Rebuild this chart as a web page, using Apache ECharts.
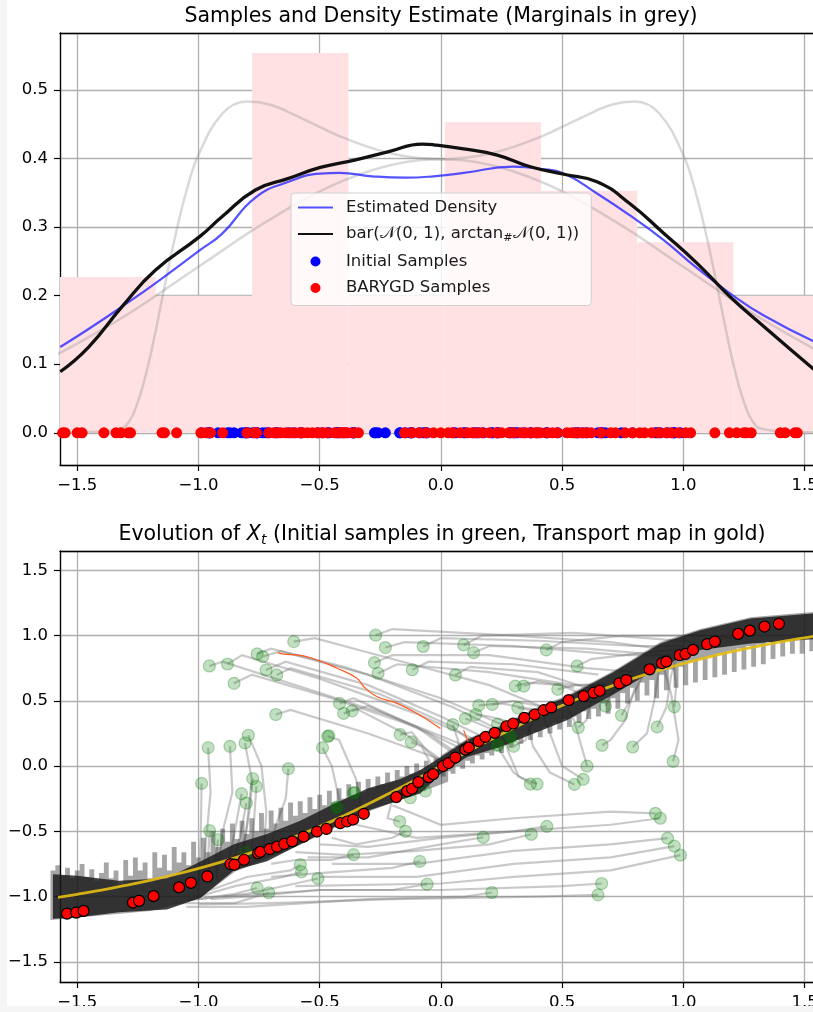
<!DOCTYPE html>
<html><head><meta charset="utf-8">
<script src="https://cdn.jsdelivr.net/npm/echarts@6/dist/echarts.min.js"></script>
<style>html,body{margin:0;padding:0;background:#fff}#c{width:813px;height:1012px}</style>
</head><body><div id="c"></div>
<script>
// ---------- TOP PANEL DATA ----------
const binEdges = [-1.573,-1.176,-0.779,-0.381,0.016,0.413,0.810,1.207,1.604];
const binHeights = [0.227,0.200,0.554,0.200,0.453,0.353,0.278,0.200];

const normX = [-1.6,-1.5,-1.4,-1.3,-1.2,-1.1,-1.0,-0.9,-0.8,-0.7,-0.6,-0.5,-0.4,-0.3,-0.2,-0.1,0,0.1,0.2,0.3,0.4,0.5,0.6,0.7,0.8,0.9,1.0,1.1,1.2,1.3,1.4,1.5,1.6];
const normY = [0.111,0.130,0.150,0.171,0.194,0.218,0.242,0.266,0.290,0.312,0.333,0.352,0.368,0.381,0.391,0.397,0.399,0.397,0.391,0.381,0.368,0.352,0.333,0.312,0.290,0.266,0.242,0.218,0.194,0.171,0.150,0.130,0.111];

const arcX = [-1.6,-1.4,-1.35,-1.3,-1.25,-1.2,-1.15,-1.1,-1.05,-1.0,-0.9,-0.8,-0.7,-0.6,-0.5,-0.4,-0.3,-0.2,-0.1,0,0.1,0.2,0.3,0.4,0.5,0.6,0.7,0.8,0.9,1.0,1.05,1.1,1.15,1.2,1.25,1.3,1.35,1.4,1.6];
const arcY = [0,0.002,0.004,0.010,0.045,0.110,0.195,0.280,0.352,0.405,0.466,0.483,0.478,0.463,0.446,0.430,0.417,0.407,0.401,0.399,0.401,0.407,0.417,0.430,0.446,0.463,0.478,0.483,0.466,0.405,0.352,0.280,0.195,0.110,0.045,0.010,0.004,0.002,0];

const estX = [-1.57,-1.45,-1.315,-1.178,-0.995,-0.903,-0.765,-0.628,-0.497,-0.42,-0.284,-0.147,-0.03,0.094,0.30,0.41,0.507,0.644,0.78,0.919,1.057,1.194,1.332,1.54];
const estY = [0.125,0.152,0.184,0.218,0.266,0.290,0.343,0.366,0.378,0.379,0.374,0.372,0.374,0.379,0.388,0.385,0.378,0.349,0.317,0.281,0.240,0.203,0.171,0.133];

const baryX = [-1.57,-1.453,-1.315,-1.178,-0.995,-0.903,-0.765,-0.628,-0.497,-0.352,-0.215,-0.077,-0.03,0.094,0.232,0.369,0.507,0.644,0.78,0.919,1.057,1.194,1.332,1.54];
const baryY = [0.089,0.125,0.184,0.237,0.286,0.315,0.354,0.371,0.387,0.398,0.410,0.421,0.420,0.414,0.405,0.388,0.377,0.366,0.334,0.291,0.247,0.198,0.155,0.092];

const barygdX = [-1.56,-1.55,-1.50,-1.48,-1.39,-1.34,-1.32,-1.29,-1.28,
  -1.15,-1.14,-1.09,-0.99,-0.97,-0.95,-0.90,-0.80,
  -0.77,-0.76,-0.71,-0.69,-0.67,-0.66,-0.64,-0.62,-0.60,-0.58,-0.57,-0.55,-0.53,-0.51,-0.49,-0.47,-0.44,-0.42,-0.41,-0.40,-0.39,-0.385,
  -0.36,-0.34,-0.15,-0.12,-0.09,-0.06,-0.03,0.0,
  0.03,0.05,0.08,0.11,0.13,0.15,0.17,0.20,0.23,0.25,0.28,0.30,0.33,0.35,0.37,0.39,0.40,0.41,
  0.44,0.46,0.48,0.52,0.54,0.56,0.58,0.60,0.62,0.66,0.70,0.72,0.76,0.79,
  0.82,0.84,0.87,0.90,0.93,0.95,0.98,1.01,1.03,1.13,1.19,
  1.22,1.25,1.26,1.28,1.40,1.42,1.46,1.47];

// ---------- BOTTOM PANEL DATA ----------
const greenX = [-0.955,-0.88,-0.853,-0.758,-0.735,-0.721,-0.677,-0.607,-0.681,
  -0.96,-0.87,-0.808,-0.794,-0.629,-0.987,-0.776,-0.761,-0.822,-0.802,-0.954,-0.919,-0.805,
  -0.418,-0.401,-0.366,-0.467,-0.462,-0.488,-0.168,-0.122,0.049,0.101,0.144,0.156,0.212,0.317,0.234,0.284,0.288,0.232,0.236,0.30,-0.431,-0.428,-0.36,-0.357,-0.064,-0.126,-0.17,-0.146,
  -0.269,-0.229,-0.274,-0.259,-0.118,-0.073,0.094,0.135,0.06,0.435,0.562,0.307,0.342,0.482,
  0.679,0.745,0.567,0.665,0.791,0.892,0.963,0.958,0.603,0.587,0.551,0.369,0.397,
  -0.58,-0.575,-0.507,-0.758,-0.71,-0.36,-0.087,-0.057,
  0.21,0.663,0.648,0.437,0.373,0.175,0.885,0.905,0.935,0.963,0.988];
const greenY = [0.767,0.782,0.634,0.859,0.839,0.736,0.698,0.954,0.395,
  0.141,0.151,0.177,0.236,-0.02,-0.133,-0.097,-0.156,-0.212,-0.284,-0.495,-0.564,-0.661,
  0.48,0.403,0.423,0.228,0.232,0.141,0.241,0.185,0.318,0.364,0.395,0.465,0.472,0.446,0.321,0.223,0.226,0.159,0.162,0.151,-0.315,-0.318,-0.207,-0.203,-0.192,-0.243,-0.425,-0.50,
  1.003,0.908,0.792,0.711,0.738,0.916,0.928,0.869,0.698,0.890,0.767,0.613,0.613,0.588,
  0.459,0.388,0.295,0.159,0.146,0.30,0.454,0.036,0.0,-0.102,-0.141,-0.138,-0.138,
  -0.756,-0.81,-0.862,-0.935,-0.971,-0.679,-0.731,-0.905,
  -0.969,-0.90,-0.987,-0.462,-0.523,-0.546,-0.362,-0.40,-0.553,-0.614,-0.683];

const redX = [-1.542,-1.504,-1.474,-1.27,-1.245,-1.185,-1.08,-1.031,-0.963,-0.868,-0.852,-0.812,-0.754,-0.745,-0.706,-0.676,-0.646,-0.613,-0.566,-0.511,-0.472,-0.415,-0.387,-0.362,-0.318,-0.184,-0.139,-0.119,-0.093,-0.05,-0.032,0.009,0.032,0.06,0.101,0.115,0.156,0.184,0.222,0.27,0.298,0.344,0.387,0.424,0.455,0.527,0.589,0.63,0.655,0.736,0.765,0.861,0.912,0.93,0.985,1.009,1.04,1.098,1.13,1.226,1.274,1.335,1.394];
const redY = [-1.131,-1.123,-1.11,-1.046,-1.033,-0.997,-0.93,-0.895,-0.846,-0.751,-0.756,-0.718,-0.669,-0.658,-0.636,-0.618,-0.597,-0.577,-0.541,-0.502,-0.482,-0.438,-0.425,-0.41,-0.366,-0.238,-0.192,-0.174,-0.123,-0.085,-0.062,0.0,0.023,0.065,0.126,0.141,0.19,0.223,0.254,0.305,0.326,0.369,0.395,0.428,0.449,0.505,0.536,0.562,0.577,0.634,0.659,0.741,0.788,0.8,0.849,0.859,0.89,0.934,0.954,1.013,1.038,1.069,1.09];

const goldX = [-1.6,-1.5,-1.4,-1.3,-1.2,-1.1,-1.0,-0.9,-0.8,-0.7,-0.6,-0.5,-0.4,-0.3,-0.2,-0.1,0,0.1,0.2,0.3,0.4,0.5,0.6,0.7,0.8,0.9,1.0,1.1,1.2,1.3,1.4,1.5,1.6];
const goldY = [-1.012,-0.983,-0.951,-0.915,-0.876,-0.833,-0.785,-0.733,-0.675,-0.611,-0.540,-0.464,-0.381,-0.291,-0.197,-0.100,0,0.100,0.197,0.291,0.381,0.464,0.540,0.611,0.675,0.733,0.785,0.833,0.876,0.915,0.951,0.983,1.012];

// dense core of the late-time oscillation band
const bandX  = [-1.60,-1.5,-1.33,-1.13,-0.99,-0.854,-0.717,-0.58,-0.442,-0.30,-0.167,-0.085,0.0,0.108,0.245,0.383,0.52,0.713,0.906,1.07,1.277,1.60];
const coreHi = [-0.83,-0.84,-0.88,-0.86,-0.73,-0.60,-0.52,-0.42,-0.29,-0.17,-0.10,-0.03,0.07,0.20,0.30,0.43,0.53,0.72,0.94,1.04,1.13,1.18];
const coreLo = [-1.17,-1.16,-1.12,-1.10,-1.01,-0.80,-0.73,-0.60,-0.47,-0.34,-0.26,-0.21,-0.06,0.07,0.146,0.25,0.35,0.55,0.76,0.89,0.94,0.98];
// lighter spiky fringe: spike tops left of 0 (every 0.02 from -1.61), spike bottoms right of 0 (every 0.02 from 0)
const fringeLStart = -1.61;
const fringeLTop = [-0.80,-0.76,-0.84,-0.78,-0.86,-0.80,-0.75,-0.85,-0.79,-0.88,-0.82,-0.74,-0.86,-0.80,-0.90,-0.72,-0.84,-0.70,-0.80,-0.74,
  -0.86,-0.66,-0.78,-0.68,-0.80,-0.62,-0.74,-0.66,-0.76,-0.58,-0.70,-0.55,-0.66,-0.50,-0.62,-0.48,-0.58,-0.44,-0.56,-0.42,
  -0.52,-0.40,-0.50,-0.36,-0.48,-0.34,-0.44,-0.32,-0.42,-0.28,-0.38,-0.27,-0.36,-0.24,-0.33,-0.22,-0.30,-0.19,-0.28,-0.17,
  -0.25,-0.14,-0.22,-0.12,-0.20,-0.10,-0.17,-0.08,-0.14,-0.05,-0.12,-0.03,-0.08,0.00,-0.06,0.02,-0.03,0.04,0.00,0.06,0.03,0.06];
const fringeLBase = [[0.03,-0.12],[-0.3,-0.35],[-0.6,-0.62],[-0.85,-0.81],[-1.0,-1.02],[-1.2,-1.11],[-1.61,-1.18]];
const fringeRStart = 0.0;
const fringeRBot = [-0.08,-0.04,-0.06,0.00,-0.02,0.04,0.02,0.08,0.05,0.10,0.08,0.14,0.10,0.16,0.14,0.20,0.17,0.24,0.20,0.26,
  0.22,0.30,0.25,0.33,0.28,0.36,0.30,0.38,0.33,0.42,0.36,0.44,0.38,0.48,0.40,0.52,0.44,0.56,0.48,0.60,
  0.50,0.64,0.54,0.66,0.52,0.70,0.58,0.74,0.60,0.76,0.62,0.80,0.64,0.82,0.66,0.84,0.68,0.86,0.70,0.88,
  0.72,0.90,0.74,0.92,0.76,0.93,0.78,0.95,0.82,0.96,0.84,0.97,0.86,0.98,0.86,0.99,0.88,1.00,0.90,1.00];
const fringeRBase = [[1.60,1.19],[1.277,1.14],[1.07,1.05],[0.906,0.95],[0.713,0.73],[0.52,0.54],[0.383,0.44],[0.245,0.31],[0.108,0.21],[0.0,0.08]];

const orangePath = [[-0.672,0.869],[-0.649,0.857],[-0.593,0.852],[-0.511,0.813],[-0.428,0.749],[-0.346,0.672],[-0.318,0.608],[-0.263,0.531],[-0.181,0.480],[-0.098,0.403],[-0.002,0.288]];
const orangeTail = [[0.094,0.275],[0.105,0.22],[0.122,0.146]];

const trajectories = [
 [[-0.955,0.767],[-0.90,0.80],[-0.6,0.62],[-0.2,0.38],[0.12,0.14]],
 [[-0.88,0.782],[-0.82,0.85],[-0.5,0.67],[-0.1,0.40],[0.18,0.17]],
 [[-0.853,0.634],[-0.78,0.70],[-0.45,0.52],[-0.1,0.30],[0.10,0.12]],
 [[-0.758,0.859],[-0.70,0.90],[-0.4,0.76],[0.0,0.52],[0.30,0.28]],
 [[-0.735,0.839],[-0.66,0.88],[-0.3,0.70],[0.05,0.45],[0.26,0.26]],
 [[-0.721,0.736],[-0.64,0.80],[-0.3,0.62],[0.0,0.38],[0.20,0.20]],
 [[-0.677,0.698],[-0.62,0.75],[-0.25,0.55],[0.05,0.30],[0.15,0.15]],
 [[-0.607,0.954],[-0.52,0.98],[-0.2,0.82],[0.2,0.62],[0.45,0.43]],
 [[-0.681,0.395],[-0.62,0.43],[-0.3,0.25],[0.0,0.05],[0.05,0.03]],
 [[-0.96,0.141],[-0.95,-0.2],[-0.97,-0.6],[-0.98,-0.85]],
 [[-0.87,0.151],[-0.86,-0.2],[-0.90,-0.5],[-0.92,-0.8]],
 [[-0.808,0.177],[-0.78,-0.1],[-0.80,-0.45],[-0.82,-0.7]],
 [[-0.794,0.236],[-0.74,0.0],[-0.72,-0.35],[-0.73,-0.65]],
 [[-0.629,-0.02],[-0.64,-0.25],[-0.68,-0.45],[-0.70,-0.62]],
 [[-0.987,-0.133],[-0.99,-0.5],[-1.0,-0.95]],
 [[-0.776,-0.097],[-0.79,-0.35],[-0.82,-0.7]],
 [[-0.761,-0.156],[-0.77,-0.4],[-0.78,-0.68]],
 [[-0.822,-0.212],[-0.85,-0.5],[-0.88,-0.78]],
 [[-0.802,-0.284],[-0.83,-0.55],[-0.86,-0.76]],
 [[-0.954,-0.495],[-0.96,-0.7],[-0.95,-0.9]],
 [[-0.919,-0.564],[-0.93,-0.72],[-0.92,-0.88]],
 [[-0.418,0.48],[-0.36,0.52],[-0.1,0.30],[0.05,0.10]],
 [[-0.401,0.403],[-0.35,0.44],[-0.15,0.25],[0.0,0.05]],
 [[-0.366,0.423],[-0.3,0.46],[-0.05,0.25],[0.08,0.08]],
 [[-0.467,0.228],[-0.42,0.2],[-0.35,-0.1],[-0.33,-0.3]],
 [[-0.488,0.141],[-0.45,0.0],[-0.42,-0.25],[-0.40,-0.40]],
 [[-0.168,0.241],[-0.12,0.26],[-0.05,0.1],[0.02,0.0]],
 [[-0.122,0.185],[-0.08,0.15],[-0.03,-0.02]],
 [[0.049,0.318],[0.07,0.2],[0.08,0.08]],
 [[0.101,0.364],[0.15,0.33],[0.25,0.25]],
 [[0.144,0.395],[0.2,0.38],[0.32,0.32]],
 [[0.156,0.465],[0.25,0.48],[0.42,0.42]],
 [[0.212,0.472],[0.3,0.5],[0.46,0.44]],
 [[0.317,0.446],[0.40,0.42],[0.47,0.45]],
 [[0.30,0.151],[0.35,0.2],[0.38,0.35]],
 [[-0.064,-0.192],[-0.08,-0.12]],
 [[-0.17,-0.425],[-0.22,-0.40],[-0.20,-0.25]],
 [[-0.146,-0.50],[-0.20,-0.55],[-0.35,-0.6],[-0.45,-0.55]],
 [[-0.269,1.003],[-0.2,1.05],[0.3,1.0],[0.7,0.95],[0.9,0.9]],
 [[-0.229,0.908],[-0.15,0.95],[0.3,0.92],[0.75,0.85],[0.95,0.85]],
 [[-0.274,0.792],[-0.2,0.85],[0.2,0.85],[0.6,0.75],[0.8,0.72]],
 [[-0.259,0.711],[-0.18,0.78],[0.2,0.72],[0.55,0.62],[0.7,0.62]],
 [[-0.118,0.738],[-0.05,0.8],[0.3,0.78],[0.65,0.70]],
 [[-0.073,0.916],[0.0,0.98],[0.4,0.96],[0.8,0.92],[1.0,0.92]],
 [[0.094,0.928],[0.17,1.0],[0.55,1.02],[0.85,0.98],[1.05,0.95]],
 [[0.135,0.869],[0.2,0.92],[0.6,0.9],[0.85,0.86]],
 [[0.06,0.698],[0.12,0.76],[0.4,0.72],[0.6,0.6]],
 [[0.435,0.890],[0.5,0.95],[0.75,1.0],[1.1,1.0],[1.2,0.98]],
 [[0.562,0.767],[0.62,0.82],[0.8,0.86],[1.0,0.9]],
 [[0.307,0.613],[0.36,0.64],[0.5,0.62],[0.58,0.55]],
 [[0.342,0.613],[0.4,0.65],[0.55,0.6]],
 [[0.482,0.588],[0.55,0.62],[0.68,0.63]],
 [[0.679,0.459],[0.7,0.55],[0.78,0.7]],
 [[0.745,0.388],[0.78,0.5],[0.85,0.75]],
 [[0.567,0.295],[0.6,0.35],[0.62,0.5]],
 [[0.665,0.159],[0.7,0.2],[0.76,0.35],[0.8,0.6]],
 [[0.791,0.146],[0.85,0.25],[0.88,0.5],[0.9,0.75]],
 [[0.892,0.30],[0.93,0.45],[0.95,0.7],[0.98,0.85]],
 [[0.963,0.454],[0.97,0.6],[0.96,0.8]],
 [[0.958,0.036],[0.98,0.2],[0.95,0.55],[0.92,0.75]],
 [[0.603,0.0],[0.58,0.15],[0.55,0.35],[0.52,0.45]],
 [[0.587,-0.102],[0.5,0.0],[0.45,0.25],[0.42,0.4]],
 [[0.551,-0.141],[0.45,-0.05],[0.38,0.15],[0.36,0.3]],
 [[0.369,-0.138],[0.3,-0.05],[0.25,0.1],[0.22,0.2]],
 [[0.397,-0.138],[0.32,-0.08],[0.28,0.1],[0.26,0.22]],
 [[-0.58,-0.756],[-0.62,-0.8],[-0.8,-0.85],[-0.95,-0.95]],
 [[-0.575,-0.81],[-0.65,-0.85],[-0.85,-0.92],[-1.0,-1.0]],
 [[-0.507,-0.862],[-0.6,-0.9],[-0.8,-0.98],[-1.05,-1.03]],
 [[-0.758,-0.935],[-0.85,-0.98],[-1.0,-1.02]],
 [[-0.71,-0.971],[-0.85,-1.05],[-1.1,-1.05]],
 [[-0.36,-0.679],[-0.45,-0.72],[-0.6,-0.72],[-0.7,-0.75]],
 [[-0.087,-0.731],[-0.2,-0.78],[-0.5,-0.82],[-0.7,-0.85]],
 [[-0.057,-0.905],[-0.2,-0.95],[-0.5,-0.95],[-0.8,-1.0],[-0.95,-1.02]],
 [[0.21,-0.969],[0.1,-1.0],[-0.3,-1.02],[-0.8,-1.08],[-1.05,-1.08]],
 [[0.663,-0.90],[0.5,-0.92],[0.0,-0.95],[-0.5,-0.95],[-0.9,-1.0]],
 [[0.648,-0.987],[0.4,-1.0],[-0.2,-1.02],[-0.7,-1.05],[-1.0,-1.06]],
 [[0.437,-0.462],[0.3,-0.5],[0.0,-0.55],[-0.3,-0.62],[-0.5,-0.6]],
 [[0.373,-0.523],[0.2,-0.6],[-0.1,-0.65],[-0.4,-0.68],[-0.6,-0.66]],
 [[0.175,-0.546],[0.0,-0.6],[-0.3,-0.7],[-0.55,-0.7]],
 [[0.885,-0.362],[0.7,-0.35],[0.3,-0.4],[0.0,-0.45],[-0.2,-0.3]],
 [[0.905,-0.40],[0.7,-0.45],[0.3,-0.5],[-0.1,-0.55],[-0.35,-0.45]],
 [[0.935,-0.553],[0.7,-0.6],[0.3,-0.65],[-0.1,-0.75],[-0.45,-0.75]],
 [[0.963,-0.614],[0.7,-0.7],[0.3,-0.75],[-0.1,-0.85],[-0.5,-0.85]],
 [[0.988,-0.683],[0.7,-0.8],[0.3,-0.85],[0.0,-0.9],[-0.6,-0.92]]
];

// ---------- CHART ----------
const FONT = 'DejaVu Sans';
const XMIN = -1.571, XMAX = 1.572;
const SPIKE_W = 0.02;
const fmt = v => (v < 0 ? '\u2212' : '') + Math.abs(v).toFixed(1);
const zip = (xs, ys) => xs.map((x, i) => [x, ys[i]]);
const spine = { show: true, onZero: false, lineStyle: { color: '#000', width: 1.3 } };

function xAxisFor(gi) {
  return {
    type: 'value', gridIndex: gi, min: XMIN, max: XMAX, position: 'bottom',
    axisLine: spine,
    axisTick: { show: true, length: 6, lineStyle: { color: '#000', width: 1.2 } },
    axisLabel: { fontSize: 16.5, fontFamily: FONT, color: '#000', margin: 12,
      showMinLabel: false, showMaxLabel: false, formatter: fmt },
    splitLine: { show: true, lineStyle: { color: '#b0b0b0', width: 1.3 } }
  };
}
function topSpineFor(gi) {
  return { type: 'value', gridIndex: gi, min: XMIN, max: XMAX, position: 'top',
    axisLine: spine, axisTick: { show: false }, axisLabel: { show: false }, splitLine: { show: false } };
}
function yAxisFor(gi, min, max) {
  return {
    type: 'value', gridIndex: gi, min: min, max: max,
    axisLine: spine,
    axisTick: { show: true, length: 6, lineStyle: { color: '#000', width: 1.2 } },
    axisLabel: { fontSize: 16.5, fontFamily: FONT, color: '#000', margin: 12,
      showMinLabel: false, showMaxLabel: false, formatter: fmt },
    splitLine: { show: true, lineStyle: { color: '#b0b0b0', width: 1.3 } }
  };
}

function polySeries(buildOutline, fill) {
  return {
    type: 'custom', xAxisIndex: 1, yAxisIndex: 1, silent: true, z: 3,
    data: [[0, 0]],
    renderItem: function (params, api) {
      return { type: 'polygon', shape: { points: buildOutline().map(p => api.coord(p)) }, style: { fill: fill } };
    }
  };
}
function coreOutline() {
  const pts = [];
  for (let i = 0; i < bandX.length; i++) pts.push([bandX[i], coreHi[i]]);
  for (let i = bandX.length - 1; i >= 0; i--) pts.push([bandX[i], coreLo[i]]);
  return pts;
}
function stepOutline(start, vals, base) {
  const pts = [];
  vals.forEach((v, k) => { const x = start + k * SPIKE_W; pts.push([x, v], [x + SPIKE_W, v]); });
  return pts.concat(base);
}

const chart = echarts.init(document.getElementById('c'), null, { renderer: 'canvas' });
const histData = binHeights.map((h, i) => [binEdges[i], binEdges[i + 1], h]);
const noMarker = { color: 'rgba(0,0,0,0)', borderColor: 'rgba(0,0,0,0)', borderWidth: 0 };

chart.setOption({
  backgroundColor: '#fff',
  animation: false,
  graphic: [
    { type: 'rect', shape: { x: 0, y: 0, width: 7, height: 1012 }, style: { fill: '#f5f5f5' }, z: 100 },
    { type: 'rect', shape: { x: 0, y: 1006, width: 813, height: 6 }, style: { fill: '#f5f5f5' }, z: 100 },
    { type: 'text', x: 441, y: 17, z: 100,
      style: { text: 'Samples and Density Estimate (Marginals in grey)', font: '20.5px "DejaVu Sans"',
        fill: '#000', textAlign: 'center', textVerticalAlign: 'middle' } },
    { type: 'text', x: 442, y: 535, z: 100,
      style: { text: '{n|Evolution of }{i|X}{s|t}{n| (Initial samples in green, Transport map in gold)}',
        fill: '#000', textAlign: 'center', textVerticalAlign: 'middle',
        rich: {
          n: { fontSize: 20.5, fontFamily: FONT, fill: '#000' },
          i: { fontSize: 20.5, fontFamily: FONT, fontStyle: 'italic', fill: '#000' },
          s: { fontSize: 14, fontFamily: FONT, fontStyle: 'italic', fill: '#000', padding: [10, 0, 0, 0] }
        } } }
  ],
  grid: [
    { left: 60, top: 33, width: 762, height: 432, outerBoundsMode: 'none', containLabel: false },
    { left: 60, top: 551, width: 762, height: 431, outerBoundsMode: 'none', containLabel: false }
  ],
  xAxis: [xAxisFor(0), xAxisFor(1), topSpineFor(0), topSpineFor(1)],
  yAxis: [yAxisFor(0, -0.047, 0.583), yAxisFor(1, -1.655, 1.648)],
  legend: {
    orient: 'vertical', left: 291, top: 193,
    padding: [6, 12, 9, 6], itemGap: 9.5, itemWidth: 35, itemHeight: 10,
    backgroundColor: 'rgba(255,255,255,0.8)', borderColor: '#d0d0d0', borderWidth: 1, borderRadius: 4,
    data: [
      { name: 'Estimated Density', itemStyle: noMarker },
      { name: 'bar', itemStyle: noMarker },
      'Initial Samples', 'BARYGD Samples'],
    textStyle: {
      fontSize: 16.5, fontFamily: FONT, color: '#1a1a1a', padding: [0, 0, 0, 8],
      rich: {
        t: { fontSize: 16.5, fontFamily: FONT, color: '#1a1a1a' },
        c: { fontSize: 16.5, fontFamily: FONT, color: '#1a1a1a' },
        s: { fontSize: 11, fontFamily: FONT, color: '#1a1a1a', padding: [8, 0, 0, 0] }
      }
    },
    formatter: function (name) {
      if (name === 'bar') return '{t|bar(}{c|\uD835\uDCA9}{t|(0, 1), arctan}{s|#}{c|\uD835\uDCA9}{t|(0, 1))}';
      return name;
    }
  },
  series: [
    { type: 'custom', xAxisIndex: 0, yAxisIndex: 0, silent: true, z: 1,
      data: histData,
      renderItem: function (params, api) {
        const p0 = api.coord([api.value(0), api.value(2)]);
        const p1 = api.coord([api.value(1), 0]);
        const rect = echarts.graphic.clipRectByRect(
          { x: p0[0], y: p0[1], width: p1[0] - p0[0], height: p1[1] - p0[1] },
          { x: params.coordSys.x, y: params.coordSys.y, width: params.coordSys.width, height: params.coordSys.height });
        if (!rect) return;
        return { type: 'rect', shape: rect, style: { fill: '#ffe1e4' } };
      } },
    { type: 'line', name: 'normal', xAxisIndex: 0, yAxisIndex: 0, data: zip(normX, normY), smooth: true,
      symbol: 'none', lineStyle: { color: 'rgba(128,128,128,0.3)', width: 2.5 }, z: 2 },
    { type: 'line', name: 'arctan', xAxisIndex: 0, yAxisIndex: 0, data: zip(arcX, arcY), smooth: 0.4,
      symbol: 'none', lineStyle: { color: 'rgba(128,128,128,0.3)', width: 2.5 }, z: 2 },
    { type: 'line', name: 'Estimated Density', xAxisIndex: 0, yAxisIndex: 0, data: zip(estX, estY), smooth: true,
      symbol: 'none', color: 'rgba(40,40,255,0.8)', lineStyle: { color: 'rgba(40,40,255,0.8)', width: 2.2 }, z: 3 },
    { type: 'line', name: 'bar', xAxisIndex: 0, yAxisIndex: 0, data: zip(baryX, baryY), smooth: true,
      symbol: 'none', color: '#111', lineStyle: { color: '#111', width: 3.3 }, z: 3 },
    { type: 'scatter', name: 'Initial Samples', xAxisIndex: 0, yAxisIndex: 0,
      data: greenX.map(x => [x, 0]), symbolSize: 11, itemStyle: { color: '#0000ff', opacity: 1 }, z: 4 },
    { type: 'scatter', name: 'BARYGD Samples', xAxisIndex: 0, yAxisIndex: 0,
      data: barygdX.map(x => [x, 0]), symbolSize: 11, itemStyle: { color: '#ff0000', opacity: 1 }, z: 5 },

    { type: 'lines', coordinateSystem: 'cartesian2d', xAxisIndex: 1, yAxisIndex: 1, polyline: true, silent: true,
      data: trajectories.map(c => ({ coords: c })),
      lineStyle: { color: 'rgba(120,120,120,0.4)', width: 2.2, opacity: 1 }, z: 2 },
    polySeries(() => stepOutline(fringeLStart, fringeLTop, fringeLBase), 'rgba(40,40,40,0.42)'),
    polySeries(() => stepOutline(fringeRStart, fringeRBot, fringeRBase), 'rgba(40,40,40,0.42)'),
    polySeries(coreOutline, 'rgba(25,25,25,0.82)'),
    { type: 'line', xAxisIndex: 1, yAxisIndex: 1, data: orangePath, symbol: 'none', smooth: true,
      lineStyle: { color: '#ff5a1f', width: 1.2 }, z: 4 },
    { type: 'line', xAxisIndex: 1, yAxisIndex: 1, data: orangeTail, symbol: 'none', smooth: true,
      lineStyle: { color: '#ff5a1f', width: 1.2 }, z: 4 },
    { type: 'scatter', xAxisIndex: 1, yAxisIndex: 1, data: zip(greenX, greenY), symbolSize: 12,
      itemStyle: { color: 'rgba(0,128,0,0.3)', borderColor: 'rgba(0,110,0,0.35)', borderWidth: 1.2 }, z: 5 },
    { type: 'line', xAxisIndex: 1, yAxisIndex: 1, data: zip(goldX, goldY), symbol: 'none', smooth: true,
      lineStyle: { color: 'rgba(230,190,20,0.9)', width: 2.8 }, z: 6 },
    { type: 'scatter', xAxisIndex: 1, yAxisIndex: 1, data: zip(redX, redY), symbolSize: 11,
      itemStyle: { color: '#ff0000', borderColor: '#000', borderWidth: 1.2, opacity: 1 }, z: 7 }
  ]
});
</script></body></html>
